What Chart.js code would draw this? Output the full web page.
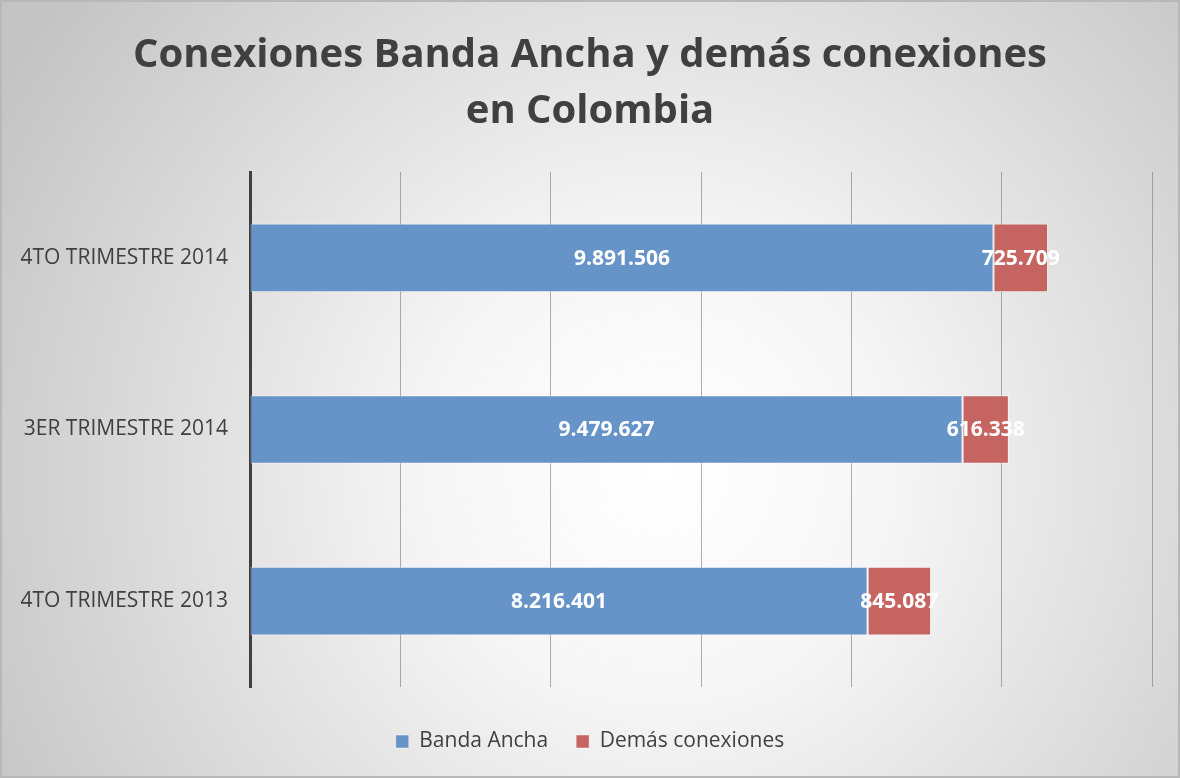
<!DOCTYPE html>
<html>
<head>
<meta charset="utf-8">
<script src="https://cdn.jsdelivr.net/npm/chart.js@4"></script>
<style>
  html, body { margin: 0; padding: 0; background: #fff; }
  #wrap { width: 1180px; height: 778px; position: relative; }
</style>
</head>
<body>
<div id="wrap"><canvas id="chart" width="1180" height="778"></canvas></div>
<script>
const periodos = ["4TO TRIMESTRE 2014", "3ER TRIMESTRE 2014", "4TO TRIMESTRE 2013"];
const bandaAncha = [9891506, 9479627, 8216401];
const demasConexiones = [725709, 616338, 845087];
const ejeMax = 12000000;
const ejePaso = 2000000;

const formato = (n) => n.toString().replace(/\B(?=(\d{3})+(?!\d))/g, ".");

// fondo con degradado radial y marco fino
const fondo = {
    id: 'fondo',
    beforeDraw(chart) {
        const ctx = chart.ctx;
        const w = chart.width, h = chart.height;
        ctx.save();
        const g = ctx.createRadialGradient(660, 470, 0, 660, 470, 760);
        g.addColorStop(0, '#ffffff');
        g.addColorStop(0.3, '#f6f6f6');
        g.addColorStop(1, '#c4c4c4');
        ctx.fillStyle = g;
        ctx.fillRect(0, 0, w, h);
        ctx.strokeStyle = '#b8b8b8';
        ctx.lineWidth = 2;
        ctx.strokeRect(1, 1, w - 2, h - 2);
        ctx.restore();
    }
};

// etiquetas de valor en el centro de cada segmento
const etiquetas = {
    id: 'etiquetas',
    afterDatasetsDraw(chart) {
        const ctx = chart.ctx;
        ctx.save();
        ctx.font = 'bold 21px "Open Sans"';
        ctx.fillStyle = '#ffffff';
        ctx.textAlign = 'center';
        ctx.textBaseline = 'middle';
        chart.data.datasets.forEach((ds, i) => {
            chart.getDatasetMeta(i).data.forEach((bar, j) => {
                const cx = (bar.x + bar.base) / 2;
                ctx.fillText(formato(ds.data[j]), cx, bar.y + 1);
            });
        });
        ctx.restore();
    }
};

new Chart(document.getElementById('chart').getContext('2d'), {
    type: 'bar',
    data: {
        labels: periodos,
        datasets: [{
            label: "Banda Ancha",
            data: bandaAncha,
            backgroundColor: '#6794c8',
            borderColor: 'rgba(255,255,255,0.45)',
            borderWidth: 1,
            borderSkipped: false
        }, {
            label: "Demás conexiones",
            data: demasConexiones,
            backgroundColor: '#c66462',
            borderColor: 'rgba(255,255,255,0.45)',
            borderWidth: 1,
            borderSkipped: false
        }]
    },
    options: {
        indexAxis: 'y',
        responsive: false,
        animation: false,
        layout: { padding: { left: 0, right: 0, top: 0, bottom: 16 } },
        datasets: {
            bar: { categoryPercentage: 0.8, barPercentage: 0.5 }
        },
        scales: {
            x: {
                stacked: true,
                min: 0,
                max: ejeMax,
                afterFit: (axis) => { axis.height = 16; },
                ticks: { display: false, stepSize: ejePaso },
                grid: { color: 'rgba(120,120,120,0.6)', lineWidth: 1, drawTicks: false },
                border: { display: false }
            },
            y: {
                stacked: true,
                afterFit: (axis) => { axis.width = 250; },
                ticks: {
                    color: '#404040',
                    font: { family: '"Open Sans"', size: 21 },
                    padding: 22
                },
                grid: { display: false, drawTicks: false },
                border: { display: true, color: '#404040', width: 3 }
            },
            // eje vacío a la derecha, solo reserva el margen
            margenDer: {
                type: 'category',
                position: 'right',
                afterFit: (axis) => { axis.width = 28; },
                ticks: { display: false },
                grid: { display: false, drawTicks: false },
                border: { display: false }
            }
        },
        plugins: {
            title: {
                display: true,
                text: ["Conexiones Banda Ancha y demás conexiones", "en Colombia"],
                color: '#404040',
                font: { family: '"Open Sans"', size: 40, weight: 'bold', lineHeight: 1.4 },
                padding: { top: 28, bottom: 32 }
            },
            legend: {
                position: 'bottom',
                labels: {
                    color: '#404040',
                    font: { family: '"Open Sans"', size: 21 },
                    boxWidth: 13,
                    boxHeight: 13,
                    padding: 28
                }
            },
            tooltip: { enabled: false }
        }
    },
    plugins: [fondo, etiquetas]
});
</script>
</body>
</html>
